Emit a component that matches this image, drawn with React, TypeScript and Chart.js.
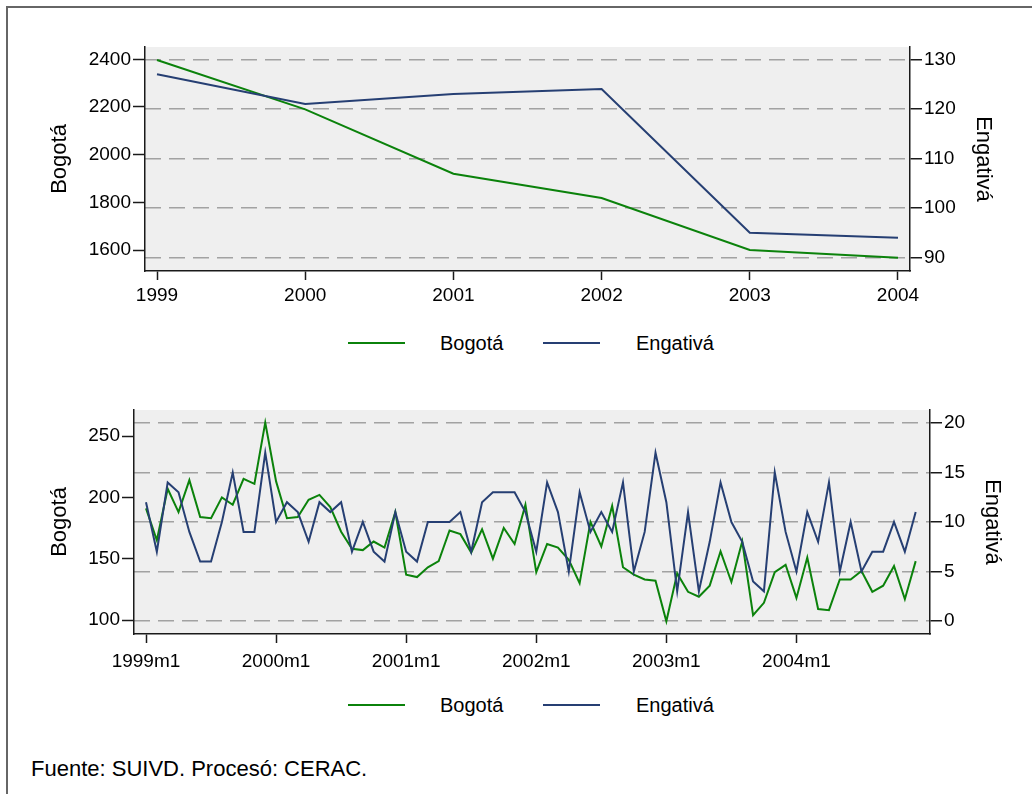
import React, { useEffect, useRef } from 'react';
import { Chart, registerables } from 'chart.js';

Chart.register(...registerables);

// ---------- DATA ----------
const years = [1999, 2000, 2001, 2002, 2003, 2004];
const bogotaAnnual = [2397, 2190, 1920, 1818, 1600, 1568];
const engativaAnnual = [127, 121, 123, 124, 95, 94];
const annualLeftTicks = [1600, 1800, 2000, 2200, 2400];
const annualRightTicks = [90, 100, 110, 120, 130];

const bogotaMonthly = [
  191, 165, 207, 188, 214, 184, 183, 200, 194, 215, 211, 261,
  213, 183, 184, 198, 202, 192, 172, 158, 157, 164, 159, 188,
  137, 135, 143, 148, 173, 170, 155, 174, 150, 175, 162, 194,
  139, 162, 159, 149, 130, 180, 160, 193, 143, 137, 133, 132,
  99, 138, 123, 119, 128, 156, 131, 164, 104, 114, 139, 145,
  118, 151, 109, 108, 133, 133, 140, 123, 128, 144, 117, 148,
];
const engativaMonthly = [
  12, 7, 14, 13, 9, 6, 6, 10, 15, 9, 9, 17,
  10, 12, 11, 8, 12, 11, 12, 7, 10, 7, 6, 11,
  7, 6, 10, 10, 10, 11, 7, 12, 13, 13, 13, 11,
  7, 14, 11, 5, 13, 9, 11, 9, 14, 5, 9, 17,
  12, 3, 11, 3, 8, 14, 10, 8, 4, 3, 15, 9,
  5, 11, 8, 14, 5, 10, 5, 7, 7, 10, 7, 11,
];
const monthTickIndex = [0, 12, 24, 36, 48, 60];
const monthTickLabels = ['1999m1', '2000m1', '2001m1', '2002m1', '2003m1', '2004m1'];
const monthlyLeftTicks = [100, 150, 200, 250];
const monthlyRightTicks = [0, 5, 10, 15, 20];

const seriesNames = ['Bogotá', 'Engativá'];
const footerText = 'Fuente: SUIVD. Procesó: CERAC.';

// ---------- STYLE ----------
const FONT = '"Liberation Sans", Arial, sans-serif';
const GREEN = '#0b820b';
const NAVY = '#263f73';
const GRID = '#a2a2a2';
const AXIS = '#1a1a1a';

const bgPlugin = {
  id: 'plotBg',
  beforeDraw(chart: any) {
    const { ctx, chartArea: a } = chart;
    ctx.save();
    ctx.fillStyle = '#efefef';
    ctx.fillRect(a.left, a.top, a.right - a.left, a.bottom - a.top);
    ctx.restore();
  },
};

function setTicks(vals: number[]) {
  return (s: any) => {
    s.ticks = vals.map((v) => ({ value: v }));
  };
}

interface Cfg {
  xs: number[];
  left: number[];
  right: number[];
  xMin: number; xMax: number;
  lMin: number; lMax: number;
  rMin: number; rMax: number;
  xTicks: number[];
  xLabel: (v: number) => string;
  leftW: number; rightW: number; xH: number; padTop: number; xPad: number;
  leftTitlePad: number; rightTitlePad: number;
  lTicks: number[]; rTicks: number[];
}

function buildConfig(c: Cfg): any {
  const tickFont = { family: FONT, size: 19 };
  const titleFont = { family: FONT, size: 22 };
  return {
    type: 'line',
    data: {
      datasets: [
        {
          label: seriesNames[1],
          data: c.xs.map((x, i) => ({ x, y: c.right[i] })),
          yAxisID: 'yR',
          borderColor: NAVY,
          borderWidth: 2,
          pointRadius: 0,
          tension: 0,
          order: 0,
        },
        {
          label: seriesNames[0],
          data: c.xs.map((x, i) => ({ x, y: c.left[i] })),
          yAxisID: 'yL',
          borderColor: GREEN,
          borderWidth: 2,
          pointRadius: 0,
          tension: 0,
          order: 1,
        },
      ],
    },
    options: {
      responsive: false,
      animation: false,
      events: [],
      layout: { padding: { top: c.padTop, left: 0, right: 0, bottom: 0 } },
      plugins: { legend: { display: false }, tooltip: { enabled: false } },
      scales: {
        x: {
          type: 'linear',
          min: c.xMin,
          max: c.xMax,
          afterBuildTicks: setTicks(c.xTicks),
          afterFit: (s: any) => { s.height = c.xH; },
          grid: { drawOnChartArea: false, tickLength: 9, tickColor: AXIS, tickWidth: 1.5 },
          border: { color: AXIS, width: 1.5 },
          ticks: { font: tickFont, color: '#000', padding: c.xPad, maxRotation: 0, autoSkip: false, callback: (v: any) => c.xLabel(Number(v)) },
        },
        yL: {
          position: 'left',
          min: c.lMin,
          max: c.lMax,
          afterBuildTicks: setTicks(c.lTicks),
          afterFit: (s: any) => { s.width = c.leftW; },
          grid: { drawOnChartArea: false, tickLength: 12, tickColor: AXIS, tickWidth: 1.5 },
          border: { color: AXIS, width: 1.5 },
          ticks: { font: tickFont, color: '#000', padding: 2, callback: (v: any) => String(v) },
          title: { display: true, text: seriesNames[0], font: titleFont, color: '#000', padding: { top: c.leftTitlePad, bottom: 0 } },
        },
        yR: {
          position: 'right',
          min: c.rMin,
          max: c.rMax,
          afterBuildTicks: setTicks(c.rTicks),
          afterFit: (s: any) => { s.width = c.rightW; },
          grid: { drawOnChartArea: true, color: GRID, lineWidth: 1.5, tickLength: 12, tickColor: AXIS, tickWidth: 1.5 },
          border: { color: AXIS, width: 1.5, dash: [16, 8] },
          ticks: { font: tickFont, color: '#000', padding: 2, callback: (v: any) => String(v) },
          title: { display: true, text: seriesNames[1], font: titleFont, color: '#000', padding: { top: c.rightTitlePad, bottom: 0 } },
        },
      },
    },
    plugins: [bgPlugin],
  };
}

function ChartCanvas({ top, height, cfg }: { top: number; height: number; cfg: Cfg }) {
  const ref = useRef<HTMLCanvasElement | null>(null);
  useEffect(() => {
    if (!ref.current) return;
    const chart = new Chart(ref.current, buildConfig(cfg));
    return () => chart.destroy();
  }, []);
  return (
    <canvas
      ref={ref}
      width={1032}
      height={height}
      style={{ position: 'absolute', left: 0, top, width: 1032, height }}
    />
  );
}

function Legend({ top }: { top: number }) {
  const text: React.CSSProperties = { position: 'absolute', top: 0, font: `20px ${FONT}`, lineHeight: '24px', color: '#000', whiteSpace: 'nowrap' };
  return (
    <div style={{ position: 'absolute', left: 0, top, width: 1032, height: 24 }}>
      <div style={{ position: 'absolute', left: 348, top: 11, width: 57, height: 2, background: GREEN }} />
      <span style={{ ...text, left: 440 }}>{seriesNames[0]}</span>
      <div style={{ position: 'absolute', left: 543, top: 11, width: 57, height: 2, background: NAVY }} />
      <span style={{ ...text, left: 636 }}>{seriesNames[1]}</span>
    </div>
  );
}

const monthIdx = bogotaMonthly.map((_, i) => i);

const annualCfg: Cfg = {
  xs: years,
  left: bogotaAnnual,
  right: engativaAnnual,
  xMin: 1998.919, xMax: 2004.081,
  lMin: 1512, lMax: 2451.5,
  rMin: 87.3, rMax: 132.5,
  xTicks: years,
  xLabel: (v) => String(v),
  leftW: 145, rightW: 122, xH: 49, padTop: 47, xPad: 4,
  leftTitlePad: 47, rightTitlePad: 36,
  lTicks: annualLeftTicks, rTicks: annualRightTicks,
};

const monthlyCfg: Cfg = {
  xs: monthIdx,
  left: bogotaMonthly,
  right: engativaMonthly,
  xMin: -1.107, xMax: 72.32,
  lMin: 88.6, lMax: 271.2,
  rMin: -1.31, rMax: 21.31,
  xTicks: monthTickIndex,
  xLabel: (v) => monthTickLabels[monthTickIndex.indexOf(v)] ?? '',
  leftW: 134, rightW: 102, xH: 56, padTop: 30, xPad: 7,
  leftTitlePad: 47, rightTitlePad: 27,
  lTicks: monthlyLeftTicks, rTicks: monthlyRightTicks,
};

export default function App() {
  return (
    <div style={{ position: 'absolute', left: 0, top: 0, width: 1032, height: 794, overflow: 'hidden', background: '#fff' }}>
      <div style={{ position: 'absolute', left: 6, top: 6, width: 1060, height: 820, border: '2px solid #666' }} />
      <ChartCanvas top={0} height={320} cfg={annualCfg} />
      <Legend top={331} />
      <ChartCanvas top={380} height={310} cfg={monthlyCfg} />
      <Legend top={693} />
      <div style={{ position: 'absolute', left: 31, top: 758, font: `22px ${FONT}`, lineHeight: '22px', color: '#000', whiteSpace: 'nowrap' }}>
        {footerText}
      </div>
    </div>
  );
}
